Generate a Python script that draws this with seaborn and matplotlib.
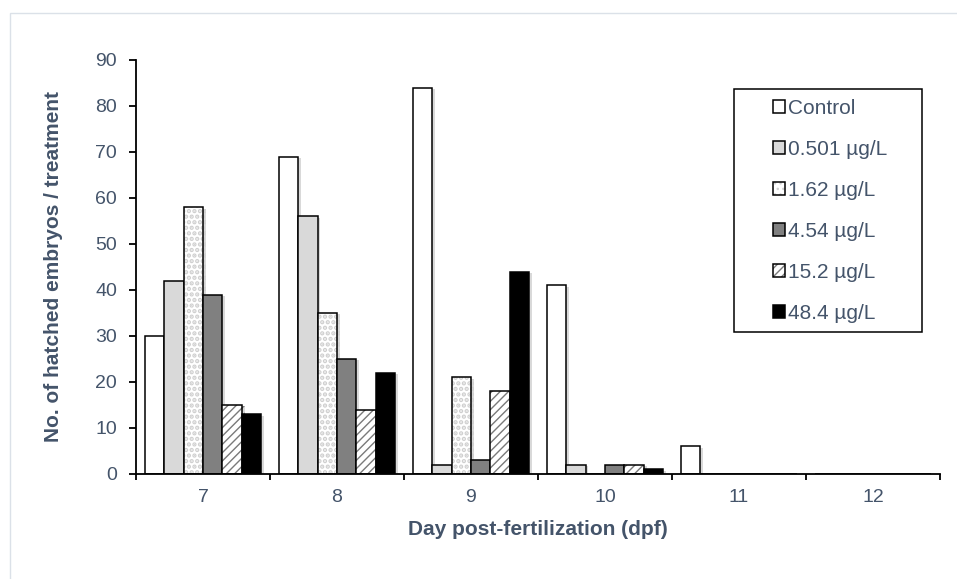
import numpy as np
import pandas as pd
import matplotlib
matplotlib.use("Agg")
import matplotlib.pyplot as plt
import seaborn as sns
from matplotlib.patches import Patch, Rectangle
from matplotlib.colors import to_rgba
from matplotlib import patheffects as pe

# Hatched embryos per day post-fertilization, per exposure concentration
days = ["7", "8", "9", "10", "11", "12"]
treatments = ["Control", "0.501 µg/L", "1.62 µg/L", "4.54 µg/L", "15.2 µg/L", "48.4 µg/L"]
control = [30, 69, 84, 41, 6, 0]
conc_0501 = [42, 56, 2, 2, 0, 0]
conc_162 = [58, 35, 21, 0, 0, 0]
conc_454 = [39, 25, 3, 2, 0, 0]
conc_152 = [15, 14, 18, 2, 0, 0]
conc_484 = [13, 22, 44, 1, 0, 0]
y_ticks = [0, 10, 20, 30, 40, 50, 60, 70, 80, 90]

series = [control, conc_0501, conc_162, conc_454, conc_152, conc_484]
df = pd.DataFrame(
    [(d, t, v) for t, vals in zip(treatments, series) for d, v in zip(days, vals)],
    columns=["day", "treatment", "count"],
)

# Bar styling per treatment
fills = ["white", "#d9d9d9", "white", "#808080", "white", "black"]
hatches = ["", "", "...", "", "////", ""]
hatch_colors = [None, None, "#cfcfcf", None, "#7a7a7a", None]
hatch_widths = [1.0, 1.0, 2.2, 1.0, 1.0, 1.0]

TEXT = "#44546a"

sns.set_theme(style="white")
plt.rcParams["font.family"] = ["Liberation Sans", "DejaVu Sans"]
plt.rcParams["hatch.linewidth"] = 1.0

fig = plt.figure(figsize=(9.57, 5.79), dpi=100)
ax = fig.add_axes([136 / 957, 1 - 474 / 579, 804 / 957, 414 / 579])

sns.barplot(
    data=df, x="day", y="count", hue="treatment",
    order=days, hue_order=treatments, palette=fills, saturation=1,
    width=0.87, edgecolor="black", linewidth=1.1, errorbar=None,
    legend=False, ax=ax,
)


def style_hatch(patch, hatch, color, width):
    patch.set_hatch(hatch)
    patch._hatch_color = to_rgba(color)
    if hasattr(patch, "set_hatch_linewidth"):
        patch.set_hatch_linewidth(width)


shadow = [pe.SimplePatchShadow(offset=(2, -1), shadow_rgbFace="black", alpha=0.15), pe.Normal()]
for cont, h, hc, hw in zip(ax.containers, hatches, hatch_colors, hatch_widths):
    for bar in cont:
        bar.set_path_effects(shadow)
        if h:
            style_hatch(bar, h, hc, hw)

ax.set_xlim(-0.5, len(days) - 0.5)
ax.set_ylim(0, 90)
ax.set_yticks(y_ticks)
ax.set_xticks(np.arange(-0.5, len(days), 1), minor=True)

for s in ["top", "right"]:
    ax.spines[s].set_visible(False)
for s in ["left", "bottom"]:
    ax.spines[s].set_color("black")
    ax.spines[s].set_linewidth(1.3)

ax.tick_params(axis="x", which="major", length=0, pad=11, labelsize=14, labelcolor=TEXT)
ax.tick_params(axis="x", which="minor", length=4.5, width=1.3, color="black", direction="out", bottom=True)
ax.tick_params(axis="y", which="major", length=5, width=1.3, color="black", direction="out",
               left=True, pad=8.5, labelsize=14, labelcolor=TEXT)

ax.set_xlabel("Day post-fertilization (dpf)", fontsize=15, fontweight="bold", color=TEXT)
ax.set_ylabel("No. of hatched embryos / treatment", fontsize=15, fontweight="bold", color=TEXT)
ax.xaxis.set_label_coords(0.5, -0.112)
ax.yaxis.set_label_coords(-0.0905, 0.5)

# Legend entries with black-outlined square keys
handles = []
for f, h, hc, hw in zip(fills, hatches, hatch_colors, hatch_widths):
    p = Patch(facecolor=f, edgecolor="black", linewidth=1.1)
    if h:
        style_hatch(p, h, hc, hw)
    handles.append(p)

leg = fig.legend(
    handles, treatments, loc="center left",
    bbox_to_anchor=(773 / 957, 1 - 211 / 579), bbox_transform=fig.transFigure,
    frameon=False, fontsize=15, labelcolor=TEXT, borderpad=0, borderaxespad=0,
    handlelength=0.58, handleheight=0.58, handletextpad=0.15, labelspacing=1.05,
)

# Legend box
fig.add_artist(Rectangle((734 / 957, 1 - 332 / 579), 188 / 957, 243 / 579,
                         transform=fig.transFigure, fill=False,
                         edgecolor="black", linewidth=1.1))
# Chart area border
fig.add_artist(Rectangle((10 / 957, -0.1), 1.2, 1.1 - 13 / 579,
                         transform=fig.transFigure, fill=False,
                         edgecolor="#dbe1e8", linewidth=1.0))

fig.savefig("out.png", dpi=100)
